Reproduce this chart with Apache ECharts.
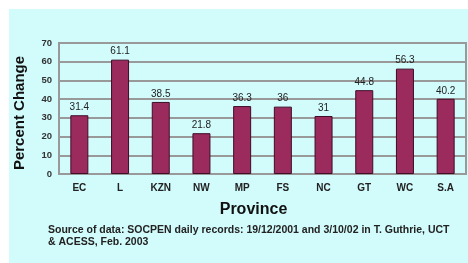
<!DOCTYPE html>
<html>
<head>
<meta charset="utf-8">
<script src="https://cdn.jsdelivr.net/npm/echarts@6/dist/echarts.min.js"></script>
<style>
  html, body { margin: 0; padding: 0; background: #fff; }
  #chart { width: 468px; height: 263px; }
</style>
</head>
<body>
<div id="chart"></div>
<script>
// provinces and percent change
var provinces = ['EC', 'L', 'KZN', 'NW', 'MP', 'FS', 'NC', 'GT', 'WC', 'S.A']
var percentChange = [31.4, 61.1, 38.5, 21.8, 36.3, 36, 31, 44.8, 56.3, 40.2]
var sourceLines = [
  'Source of data: SOCPEN daily records: 19/12/2001 and 3/10/02 in T. Guthrie, UCT',
  '& ACESS, Feb. 2003'
]

var chart = echarts.init(document.getElementById('chart'))
var font = 'Arial, "Liberation Sans", sans-serif'

chart.setOption({
  animation: false,
  backgroundColor: '#fff',
  graphic: [
    {
      type: 'rect',
      z: -10,
      shape: { x: 9, y: 9, width: 459, height: 254 },
      style: { fill: '#d2fbfb' }
    },
    {
      type: 'text',
      left: 48,
      top: 224,
      style: {
        text: sourceLines.join('\n'),
        font: 'bold 10.5px ' + font,
        fill: '#222',
        lineHeight: 12
      }
    }
  ],
  grid: {
    left: 59,
    right: 2,
    top: 43,
    bottom: 89,
    show: true,
    borderColor: '#999',
    borderWidth: 2,
    backgroundColor: 'transparent'
  },
  xAxis: {
    type: 'category',
    data: provinces,
    name: 'Province',
    nameLocation: 'middle',
    nameGap: 28,
    nameTextStyle: {
      fontFamily: font,
      fontWeight: 'bold',
      fontSize: 16,
      color: '#111',
      padding: [0, 18, 0, 0]
    },
    axisLine: { lineStyle: { color: '#999', width: 2 } },
    axisTick: { show: false },
    axisLabel: {
      margin: 9,
      fontFamily: font,
      fontWeight: 'bold',
      fontSize: 10,
      color: '#222'
    }
  },
  yAxis: {
    type: 'value',
    min: 0,
    max: 70,
    interval: 10,
    name: 'Percent Change',
    nameLocation: 'middle',
    nameGap: 32,
    nameTextStyle: {
      fontFamily: font,
      fontWeight: 'bold',
      fontSize: 15,
      color: '#111',
      padding: [0, 0, 0, -9]
    },
    axisLine: { show: true, lineStyle: { color: '#999', width: 2 } },
    axisTick: { show: false },
    axisLabel: {
      margin: 7,
      fontFamily: font,
      fontWeight: 'bold',
      fontSize: 9.5,
      color: '#333'
    },
    splitLine: { lineStyle: { color: '#999', width: 2 } }
  },
  series: [
    {
      type: 'bar',
      data: percentChange,
      barWidth: 18,
      itemStyle: {
        color: '#9c2b5d',
        borderColor: '#3e0c26',
        borderWidth: 1
      },
      label: {
        show: true,
        position: 'top',
        distance: 3,
        fontFamily: font,
        fontSize: 10,
        color: '#222'
      }
    }
  ]
})
</script>
</body>
</html>
